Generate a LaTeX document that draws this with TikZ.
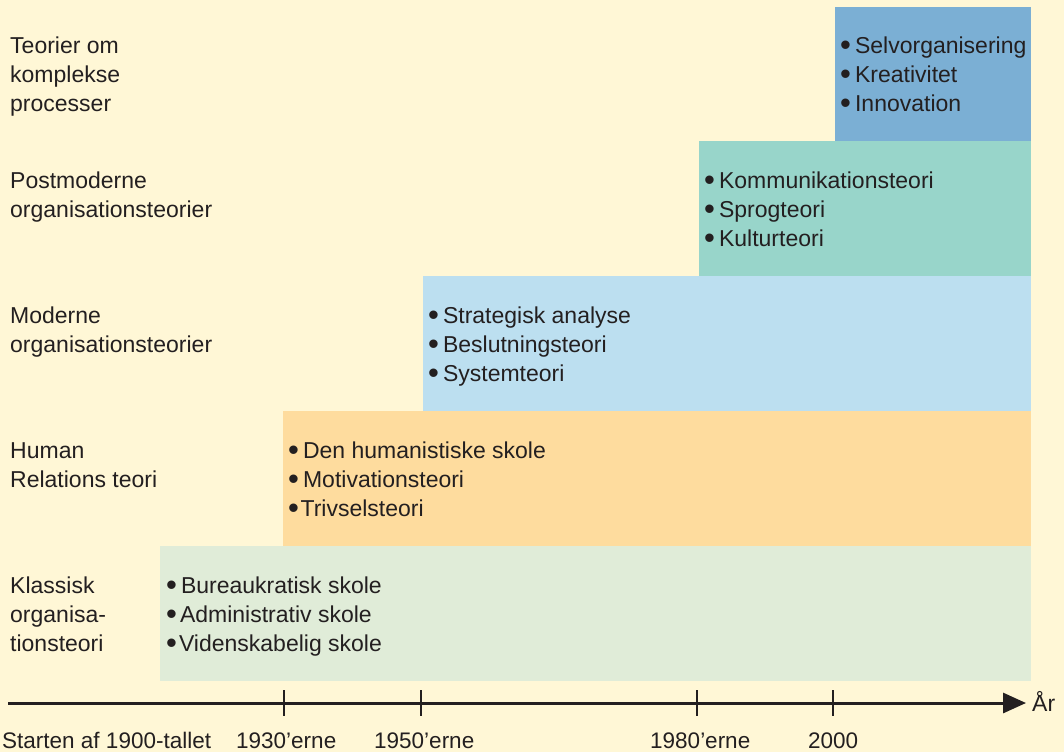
\documentclass[tikz,border=0pt]{standalone}
\usepackage{fontspec}
\setmainfont{Liberation Sans}
\usetikzlibrary{arrows.meta}

\definecolor{paper}{RGB}{255,247,214}
\definecolor{ink}{RGB}{35,31,32}
\definecolor{bandblue}{RGB}{123,175,212}
\definecolor{bandteal}{RGB}{152,213,202}
\definecolor{bandsky}{RGB}{188,223,240}
\definecolor{bandorange}{RGB}{254,220,158}
\definecolor{bandgreen}{RGB}{224,236,216}

\tikzset{
  lbl/.style={anchor=base west, inner sep=0pt, text=ink,
    font=\fontsize{23}{27}\selectfont},
  axlbl/.style={lbl, font=\fontsize{22.5}{27}\selectfont},
  tickmark/.style={line width=2pt, draw=ink},
  axisline/.style={line width=3pt, draw=ink,
    -{Triangle[length=23pt,width=20pt]}},
}

% heavy bullet followed by a gap of #1
\newcommand{\bl}[1]{\raisebox{-2.6pt}{\fontsize{31}{31}\selectfont\textbullet}\hspace{#1}}

\begin{document}
\begin{tikzpicture}[x=1pt,y=-1pt]
  % page and background
  \fill[paper] (0,0) rectangle (1064,752);
  \useasboundingbox (0,0) rectangle (1064,752);

  % period bands
  \fill[bandgreen]  (160,546) rectangle (1031,681);
  \fill[bandorange] (283,411) rectangle (1031,546);
  \fill[bandsky]    (423,276) rectangle (1031,411);
  \fill[bandteal]   (699,141) rectangle (1031,276);
  \fill[bandblue]   (835,7)   rectangle (1031,141);

  % category labels on the left
  \node[lbl] (c1a) at (10,53)  {Teorier om};
  \node[lbl] (c1b) at (10,82)  {komplekse};
  \node[lbl] (c1c) at (10,111) {processer};
  \node[lbl] (c2a) at (10,188) {Postmoderne};
  \node[lbl] (c2b) at (10,217) {organisationsteorier};
  \node[lbl] (c3a) at (10,323) {Moderne};
  \node[lbl] (c3b) at (10,352) {organisationsteorier};
  \node[lbl] (c4a) at (10,458) {Human};
  \node[lbl] (c4b) at (10,487) {Relations teori};
  \node[lbl] (c5a) at (10,593) {Klassisk};
  \node[lbl] (c5b) at (10,622) {organisa-};
  \node[lbl] (c5c) at (10,651) {tionsteori};

  % band contents
  \node[lbl] (p1a) at (840,53)  {\bl{4pt}Selvorganisering};
  \node[lbl] (p1b) at (840,82)  {\bl{4pt}Kreativitet};
  \node[lbl] (p1c) at (840,111) {\bl{4pt}Innovation};

  \node[lbl] (p2a) at (704,188) {\bl{4pt}Kommunikationsteori};
  \node[lbl] (p2b) at (704,217) {\bl{4pt}Sprogteori};
  \node[lbl] (p2c) at (704,246) {\bl{4pt}Kulturteori};

  \node[lbl] (p3a) at (428,323) {\bl{4pt}Strategisk analyse};
  \node[lbl] (p3b) at (428,352) {\bl{4pt}Beslutningsteori};
  \node[lbl] (p3c) at (428,381) {\bl{4pt}Systemteori};

  \node[lbl] (p4a) at (288,458) {\bl{4pt}Den humanistiske skole};
  \node[lbl] (p4b) at (288,487) {\bl{4pt}Motivationsteori};
  \node[lbl] (p4c) at (288,516) {\bl{1.5pt}Trivselsteori};

  \node[lbl] (p5a) at (166,593) {\bl{4pt}Bureaukratisk skole};
  \node[lbl] (p5b) at (166,622) {\bl{3pt}Administrativ skole};
  \node[lbl] (p5c) at (166,651) {\bl{2pt}Videnskabelig skole};

  % time axis
  \coordinate (axstart) at (8,703);
  \coordinate (axend) at (1026,703);
  \draw[axisline] (axstart) -- (axend);
  \node[lbl] (year) at (1032,711) {År};

  \draw[tickmark] (284,690) -- (284,716);
  \draw[tickmark] (421,690) -- (421,716);
  \draw[tickmark] (697,690) -- (697,716);
  \draw[tickmark] (833,690) -- (833,716);

  \node[axlbl] (t0) at (2,748)   {Starten af 1900-tallet};
  \node[axlbl] (t1) at (236,748) {1930’erne};
  \node[axlbl] (t2) at (374,748) {1950’erne};
  \node[axlbl] (t3) at (650,748) {1980’erne};
  \node[axlbl] (t4) at (808,748) {2000};
\end{tikzpicture}
\end{document}
